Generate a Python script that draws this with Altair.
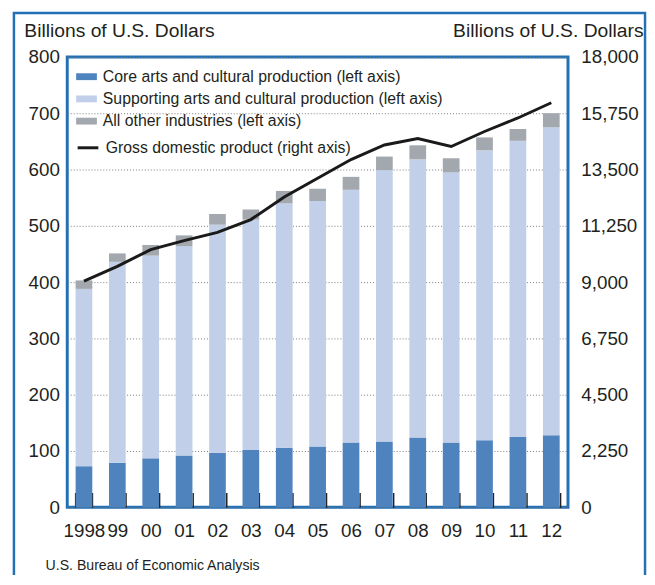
import altair as alt
import pandas as pd

# ---------------- data ----------------
years = ["1998", "99", "00", "01", "02", "03", "04", "05", "06", "07", "08", "09", "10", "11", "12"]
core = [73, 79, 87, 92, 97, 102, 106, 108, 115, 117, 124, 115, 119, 125, 128]
supporting = [315, 357, 360, 372, 405, 409, 434, 436, 449, 482, 494, 480, 515, 526, 547]
other = [15, 15, 19, 19, 19, 18, 22, 22, 23, 24, 25, 25, 23, 21, 25]
gdp = [9040, 9630, 10300, 10660, 10985, 11500, 12400, 13150, 13900, 14480, 14740, 14420, 15020, 15560, 16170]

cat_names = [
    "Core arts and cultural production (left axis)",
    "Supporting arts and cultural production (left axis)",
    "All other industries (left axis)",
]
gdp_name = "Gross domestic product (right axis)"
cat_colors = ["#4f83be", "#c1cfe8", "#a3a7ae"]
left_ticks = [0, 100, 200, 300, 400, 500, 600, 700, 800]
right_ticks = [0, 2250, 4500, 6750, 9000, 11250, 13500, 15750, 18000]
axis_title = "Billions of U.S. Dollars"
source = "U.S. Bureau of Economic Analysis"

# ---------------- tables ----------------
rows = []
for i, yr in enumerate(years):
    for k, (name, vals) in enumerate(zip(cat_names, [core, supporting, other])):
        rows.append({"year": yr, "cat": name, "order": k, "value": vals[i]})
bars_df = pd.DataFrame(rows)
gdp_df = pd.DataFrame({"year": years, "gdp": gdp, "series": gdp_name})
one_df = pd.DataFrame({"a": [0]})

FONT = "Liberation Sans"
TXT = "#231f20"
BLUE = "#2470b5"
W, H = 507, 456

# x axis lifted 15px into the plot so its ticks point up from the bottom edge, between the bars
x_axis = alt.Axis(title=None, domain=False, ticks=True, tickBand="extent", tickSize=15,
                  tickColor="#222222", tickWidth=1.5, offset=-15, labelAngle=0, labelFont=FONT,
                  labelFontSize=19, labelColor=TXT, labelPadding=15)
x_scale = alt.Scale(paddingInner=0.5, paddingOuter=0.25)

frame = alt.Chart(one_df).mark_rect(filled=False, stroke=BLUE, strokeWidth=2.5).encode(
    x=alt.value(-54), x2=alt.value(585), y=alt.value(-44.5), y2=alt.value(H + 120)
)

bars = alt.Chart(bars_df).mark_bar().encode(
    x=alt.X("year:N", sort=years, scale=x_scale, axis=x_axis),
    y=alt.Y("value:Q", stack="zero", scale=alt.Scale(domain=[0, 800], nice=False),
            axis=alt.Axis(values=left_ticks, format="d", title=axis_title, titleAngle=0, titleX=-44,
                          titleY=-27, titleAlign="left", titleBaseline="middle", titleFont=FONT,
                          titleFontSize=19.5, titleFontWeight="normal", titleColor=TXT,
                          labelFont=FONT, labelFontSize=19, labelColor=TXT, labelPadding=8,
                          ticks=False, tickSize=0, domain=False,
                          grid=True, gridDash=[1, 2], gridColor="#7a7a7a", gridWidth=1)),
    color=alt.Color("cat:N", scale=alt.Scale(domain=cat_names, range=cat_colors),
                    legend=alt.Legend(title=None, orient="none", legendX=9, legendY=9.5,
                                      symbolType="M-1,-0.33H1V0.33H-1Z", symbolSize=441,
                                      symbolStrokeWidth=0, symbolOpacity=1,
                                      labelFont=FONT, labelFontSize=16, labelColor=TXT,
                                      labelLimit=1000, labelOffset=6, rowPadding=3.5, padding=0)),
    order=alt.Order("order:Q"),
)

line = alt.Chart(gdp_df).mark_line(strokeWidth=3).encode(
    x=alt.X("year:N", sort=years, scale=x_scale, axis=x_axis),
    y=alt.Y("gdp:Q", scale=alt.Scale(domain=[0, 18000], nice=False),
            axis=alt.Axis(orient="right", values=right_ticks, format=",d", title=axis_title,
                          titleAngle=0, titleX=76, titleY=-27, titleAlign="right",
                          titleBaseline="middle", titleFont=FONT, titleFontSize=19.5,
                          titleFontWeight="normal", titleColor=TXT, labelFont=FONT,
                          labelFontSize=19, labelColor=TXT, labelPadding=13, ticks=False,
                          tickSize=0, domain=False, grid=False)),
    stroke=alt.Stroke("series:N", scale=alt.Scale(domain=[gdp_name], range=["#1a1a1a"]),
                      legend=alt.Legend(title=None, orient="none", legendX=9, legendY=80,
                                        symbolType="stroke", symbolSize=441, symbolStrokeWidth=3,
                                        labelFont=FONT, labelFontSize=16, labelColor=TXT,
                                        labelLimit=1000, labelOffset=6, padding=0)),
)

src = alt.Chart(one_df).mark_text(text=source, font=FONT, fontSize=14.3, color=TXT,
                                  align="left", baseline="middle").encode(
    x=alt.value(-22), y=alt.value(H + 59)
)

chart = alt.layer(frame, bars, line, src).resolve_scale(y="independent").properties(
    width=W, height=H,
    autosize=alt.AutoSizeParams(type="none"),
    padding={"left": 60, "top": 46, "right": 80, "bottom": 65},
).configure_view(stroke=BLUE, strokeWidth=3)

chart.save("out.html", embed_options={"renderer": "svg", "actions": False})
